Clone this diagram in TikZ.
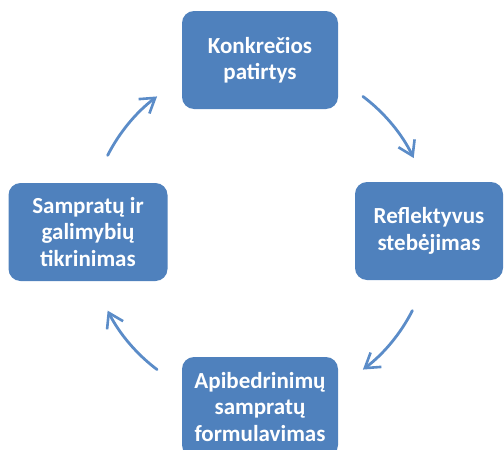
\documentclass[tikz,border=0pt]{standalone}
\usepackage{fontspec}
\setmainfont{Carlito}
\usetikzlibrary{arrows.meta}
\definecolor{boxblue}{HTML}{4F81BD}
\definecolor{arrowblue}{HTML}{5B8CC8}
\begin{document}
\begin{tikzpicture}[x=1pt,y=-1pt,
  stage/.style={fill=boxblue, rounded corners=12pt, text=white, align=center,
    font=\fontsize{23}{26.5}\selectfont\bfseries, inner sep=0pt,
    minimum width=156pt, minimum height=98pt},
  cyc/.style={draw=arrowblue, line width=2.8pt, line cap=round,
    -{Straight Barb[length=14pt,width=18pt,line width=2.6pt]}}]
\useasboundingbox (0,0) rectangle (504,450);
\node[stage] (top) at (260,60) {Konkrečios\\patirtys};
\node[stage, minimum width=148pt] (right) at (429,231) {Reflektyvus\\stebėjimas};
\node[stage, minimum width=159pt] (left) at (88,232) {Sampratų ir\\galimybių\\tikrinimas};
\node[stage, minimum height=100pt] (bottom) at (260,407) {};
\node[text=white, align=center, font=\fontsize{23}{26.5}\selectfont\bfseries] (bottomtext) at (260,407) {Apibedrinimų\\sampratų\\formulavimas};
\coordinate (o) at (260,233);
\draw[cyc] ([shift={(-53:171)}]o) arc[start angle=-53, end angle=-26, radius=171];
\draw[cyc] ([shift={(27:171)}]o) arc[start angle=27, end angle=53, radius=171];
\draw[cyc] ([shift={(127:171)}]o) arc[start angle=127, end angle=153, radius=171];
\draw[cyc] ([shift={(-153:171)}]o) arc[start angle=-153, end angle=-127, radius=171];
\end{tikzpicture}
\end{document}
